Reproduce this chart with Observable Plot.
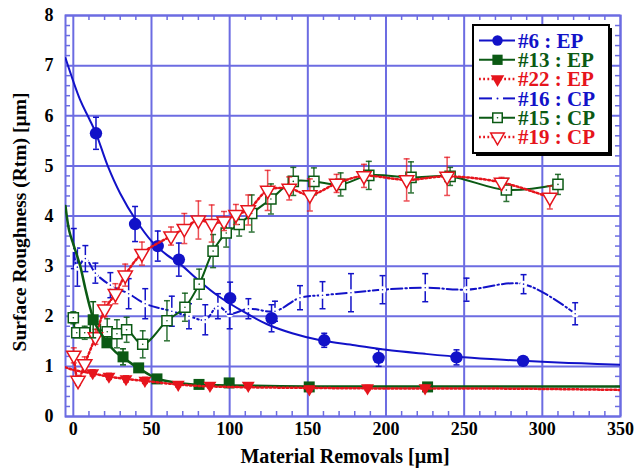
<!DOCTYPE html>
<html><head><meta charset="utf-8">
<script src="https://cdn.jsdelivr.net/npm/d3@7"></script>
<script src="https://cdn.jsdelivr.net/npm/@observablehq/plot@0.6"></script>
<style>body{margin:0;background:#fff} #chart{width:636px;height:473px}</style>
</head><body><div id="chart"></div>
<script>
// ---------- DATA ----------
const xTicks = [0, 50, 100, 150, 200, 250, 300, 350];
const yTicks = [0, 1, 2, 3, 4, 5, 6, 7, 8];
const xLabel = "Material Removals [µm]";
const yLabel = "Surface Roughness (Rtm) [µm]";
const seriesNames = ["#6 : EP", "#13 : EP", "#22 : EP", "#16 : CP", "#15 : CP", "#19 : CP"];

// #6 : EP  (filled circles + fitted curve)
const x6 = [14.5, 39.5, 54, 67.5, 100.3, 126.8, 160.5, 195.3, 245.1, 287.7];
const y6 = [5.65, 3.84, 3.40, 3.13, 2.36, 1.96, 1.52, 1.17, 1.18, 1.11];
const e6 = [0.32, 0.35, 0.30, 0.33, 0.32, 0.27, 0.14, 0.17, 0.15, 0.03];
const fit6x = [-5, 4.3, 10, 14.5, 22, 30, 40, 50, 60, 68, 80, 92, 110, 124, 140, 158, 180, 200, 225, 250, 275, 300, 325, 350];
const fit6y = [7.15, 6.32, 5.95, 5.65, 5.0, 4.45, 3.92, 3.5, 3.22, 3.05, 2.72, 2.42, 2.07, 1.84, 1.66, 1.52, 1.42, 1.33, 1.25, 1.18, 1.13, 1.09, 1.06, 1.03];

// #13 : EP  (filled squares + fitted curve)
const x13 = [12.7, 21.5, 31.8, 41.8, 53.5, 80.4, 99.7, 150.9, 226.6];
const y13 = [1.93, 1.47, 1.19, 0.97, 0.75, 0.64, 0.67, 0.59, 0.59];
const e13 = [0.36, 0.08, 0.16, 0.08, 0.05, 0.05, 0.05, 0.04, 0.04];
const fit13x = [-5, -2.6, 0.2, 4.5, 7.7, 10.9, 14, 18.4, 22, 26.9, 32, 37.5, 42, 48.2, 54, 63, 80, 100, 150, 200, 250, 300, 350];
const fit13y = [4.2, 3.7, 3.42, 2.99, 2.55, 2.15, 1.85, 1.62, 1.46, 1.29, 1.17, 1.05, 0.96, 0.84, 0.75, 0.69, 0.63, 0.62, 0.6, 0.6, 0.6, 0.6, 0.6];

// #22 : EP  (filled down-triangles + dotted fitted curve)
const x22 = [12.4, 22.8, 33.7, 45.8, 67.1, 87.4, 111.9, 151, 188.2, 225];
const y22 = [0.87, 0.80, 0.75, 0.72, 0.64, 0.62, 0.62, 0.55, 0.57, 0.57];
const e22 = [0.06, 0.06, 0.06, 0.06, 0.05, 0.05, 0.05, 0.05, 0.05, 0.05];
const fit22x = [-5, 0, 12, 22, 33, 46, 63, 80, 100, 150, 200, 250, 300, 350];
const fit22y = [0.98, 0.93, 0.86, 0.80, 0.75, 0.71, 0.65, 0.61, 0.59, 0.57, 0.56, 0.56, 0.55, 0.53];

// #16 : CP  (dash-dot line, hidden markers, error bars)
const x16 = [0.3, 2.6, 7.7, 14.1, 23.7, 35.4, 46, 63, 74, 84.4, 92.5, 100, 112, 129, 145, 159.4, 177.6, 197.8, 225.1, 251.5, 288, 321];
const y16 = [3.35, 2.98, 3.15, 2.86, 2.62, 2.45, 2.25, 2.10, 2.00, 1.93, 2.20, 2.05, 2.15, 2.10, 2.37, 2.42, 2.47, 2.53, 2.57, 2.53, 2.64, 2.05];
const e16 = [0.40, 0.38, 0.26, 0.20, 0.25, 0.30, 0.30, 0.30, 0.25, 0.30, 0.25, 0.30, 0.20, 0.20, 0.24, 0.27, 0.38, 0.28, 0.28, 0.23, 0.19, 0.22];

// #15 : CP  (open squares, solid line)
const x15 = [0, 2.2, 7.3, 14.1, 21.7, 27.9, 34.1, 44.4, 59.9, 71.4, 80.5, 89.4, 97.8, 106.1, 114.1, 126.4, 140.7, 153.9, 171, 189, 216, 241, 277, 310];
const y15 = [1.97, 1.67, 1.67, 1.74, 1.69, 1.65, 1.73, 1.44, 1.91, 2.18, 2.64, 3.30, 3.66, 3.83, 4.05, 4.34, 4.69, 4.69, 4.63, 4.81, 4.77, 4.79, 4.52, 4.63];
const e15 = [0.12, 0.10, 0.13, 0.15, 0.26, 0.28, 0.25, 0.27, 0.40, 0.28, 0.30, 0.33, 0.28, 0.23, 0.37, 0.30, 0.28, 0.27, 0.23, 0.28, 0.31, 0.18, 0.23, 0.20];

// #19 : CP  (open down-triangles, dotted line)
const x19 = [0.3, 3, 7.3, 14.1, 20.1, 26.9, 33.2, 43.9, 62.5, 71, 80, 88.5, 96.4, 104, 111.9, 124.3, 138.1, 151.3, 168.4, 185.9, 213.2, 239.1, 273.9, 304.8];
const y19 = [1.22, 0.72, 1.05, 1.59, 2.14, 2.45, 2.82, 3.25, 3.60, 3.75, 3.92, 3.85, 3.90, 4.03, 4.12, 4.51, 4.55, 4.42, 4.65, 4.80, 4.72, 4.79, 4.67, 4.37];
const e19 = [0.15, 0.10, 0.14, 0.15, 0.15, 0.20, 0.22, 0.23, 0.18, 0.30, 0.38, 0.37, 0.19, 0.20, 0.30, 0.40, 0.23, 0.32, 0.18, 0.23, 0.42, 0.38, 0.10, 0.23];

// ---------- STYLE ----------
const BLUE = "#1212c8", GREEN = "#0b5a14", RED = "#e6141c";
const GRID = "#6c6ce2";
const FONT = "'Liberation Serif', 'Times New Roman', serif";
const DOTS = "1.8,2.4";

const rows = (xs, ys, es) => xs.map((x, i) => ({x, y: ys[i], lo: ys[i] - es[i], hi: ys[i] + es[i]}));
const pts = (xs, ys) => xs.map((x, i) => ({x, y: ys[i]}));
const s6 = rows(x6, y6, e6), s13 = rows(x13, y13, e13), s22 = rows(x22, y22, e22);
const s16 = rows(x16, y16, e16), s15 = rows(x15, y15, e15), s19 = rows(x19, y19, e19);
const f6 = pts(fit6x, fit6y), f13 = pts(fit13x, fit13y), f22 = pts(fit22x, fit22y);

const xMinor = d3.range(0, 351, 10).filter(v => v % 50 !== 0);
const yMinor = d3.range(0, 8.01, 0.2).map(v => +v.toFixed(1)).filter(v => Math.abs(v - Math.round(v)) > 1e-6);

const capSymbol = {draw(ctx, size) { const w = Math.sqrt(size / Math.PI); ctx.moveTo(-w, 0); ctx.lineTo(w, 0); }};
function errorBars(data, color, opacity = 1) {
  return [
    Plot.ruleX(data, {x: "x", y1: "lo", y2: "hi", stroke: color, strokeWidth: 1.5, strokeOpacity: opacity}),
    Plot.dot(data, {x: "x", y: "hi", symbol: capSymbol, r: 3, stroke: color, strokeWidth: 1.5, strokeOpacity: opacity}),
    Plot.dot(data, {x: "x", y: "lo", symbol: capSymbol, r: 3, stroke: color, strokeWidth: 1.5, strokeOpacity: opacity})
  ];
}

const plot = Plot.plot({
  width: 636, height: 473,
  marginLeft: 65, marginRight: 16, marginTop: 15, marginBottom: 57,
  style: {fontFamily: FONT, fontWeight: "bold", background: "#fff", overflow: "visible"},
  x: {domain: [-5, 350]},
  y: {domain: [0, 8]},
  marks: [
    Plot.gridX(xTicks, {stroke: GRID, strokeOpacity: 1, strokeWidth: 2}),
    Plot.gridY(yTicks, {stroke: GRID, strokeOpacity: 1, strokeWidth: 2}),
    Plot.ruleX(xMinor, {x: d => d, y1: 0, y2: 0.1, stroke: GRID, strokeWidth: 1.5}),
    Plot.ruleX(xMinor, {x: d => d, y1: 7.9, y2: 8, stroke: GRID, strokeWidth: 1.5}),
    Plot.ruleY(yMinor, {y: d => d, x1: -5, x2: -1.8, stroke: GRID, strokeWidth: 1.5}),
    Plot.ruleY(yMinor, {y: d => d, x1: 346.8, x2: 350, stroke: GRID, strokeWidth: 1.5}),
    Plot.frame({stroke: GRID, strokeWidth: 2}),
    Plot.axisX({ticks: xTicks, tickSize: 0, tickPadding: 6, fontSize: 18, fontWeight: "bold", label: null, fill: "#000"}),
    Plot.axisY({ticks: yTicks, tickSize: 0, tickPadding: 12, fontSize: 18, fontWeight: "bold", label: null, fill: "#000"}),

    // #16 : CP
    Plot.line(s16, {x: "x", y: "y", stroke: BLUE, strokeWidth: 2, strokeDasharray: "11,3,1.5,3", curve: "catmull-rom"}),
    ...errorBars(s16, BLUE),
    Plot.dot(s16, {x: "x", y: "y", r: 3.5, fill: "#fff"}),
    Plot.dot(s16, {x: "x", y: "y", r: 0.8, fill: BLUE}),

    // #6 : EP
    Plot.line(f6, {x: "x", y: "y", stroke: BLUE, strokeWidth: 2, curve: "catmull-rom", clip: true}),
    ...errorBars(s6, BLUE),
    Plot.dot(s6, {x: "x", y: "y", r: 6.2, fill: BLUE}),

    // #15 : CP
    Plot.line(s15, {x: "x", y: "y", stroke: GREEN, strokeWidth: 2, curve: "catmull-rom"}),
    ...errorBars(s15, GREEN, 0.85),
    Plot.dot(s15, {x: "x", y: "y", symbol: "square", r: 5.7, fill: "#fff", stroke: GREEN, strokeWidth: 1.5}),
    Plot.dot(s15, {x: "x", y: "y", r: 0.8, fill: GREEN}),

    // #19 : CP
    Plot.line(s19, {x: "x", y: "y", stroke: RED, strokeWidth: 2.5, strokeDasharray: DOTS, curve: "catmull-rom"}),
    ...errorBars(s19, RED, 0.75),
    Plot.dot(s19, {x: "x", y: "y", symbol: "triangle", rotate: 180, r: 5.3, fill: "#fff", stroke: RED, strokeWidth: 1.5}),

    // #13 : EP
    Plot.line(f13, {x: "x", y: "y", stroke: GREEN, strokeWidth: 2.5, curve: "catmull-rom", clip: true}),
    ...errorBars(s13, GREEN),
    Plot.dot(s13, {x: "x", y: "y", symbol: "square", r: 6.2, fill: GREEN}),

    // #22 : EP
    Plot.line(f22, {x: "x", y: "y", stroke: RED, strokeWidth: 2.5, strokeDasharray: DOTS, curve: "catmull-rom", clip: true}),
    ...errorBars(s22, RED),
    Plot.dot(s22, {x: "x", y: "y", symbol: "triangle", rotate: 180, r: 4.8, fill: RED})
  ]
});
document.getElementById("chart").appendChild(plot);

const svg = d3.select(plot).attr("font-family", FONT);

// ---------- AXIS TITLES ----------
svg.append("text").attr("x", 345).attr("y", 456).attr("dy", "0.35em")
  .attr("text-anchor", "middle").attr("font-family", FONT).attr("font-weight", "bold")
  .attr("font-size", 20).attr("fill", "#000").text(xLabel);
svg.append("text").attr("transform", "translate(19,222) rotate(-90)").attr("dy", "0.35em")
  .attr("text-anchor", "middle").attr("font-family", FONT).attr("font-weight", "bold")
  .attr("font-size", 19.5).attr("fill", "#000").text(yLabel);

// ---------- LEGEND (inside plot, top-right) ----------
const legendItems = [
  {name: seriesNames[0], color: BLUE, dash: null, sym: d3.symbolCircle, size: 85, fill: true},
  {name: seriesNames[1], color: GREEN, dash: null, sym: d3.symbolSquare, size: 105, fill: true},
  {name: seriesNames[2], color: RED, dash: DOTS, sym: d3.symbolTriangle, size: 80, fill: true, rot: 180},
  {name: seriesNames[3], color: BLUE, dash: "dashdot", sym: null},
  {name: seriesNames[4], color: GREEN, dash: null, sym: d3.symbolSquare, size: 90, fill: false},
  {name: seriesNames[5], color: RED, dash: DOTS, sym: d3.symbolTriangle, size: 80, fill: false, rot: 180}
];
const lg = svg.append("g").attr("font-family", FONT).attr("font-weight", "bold");
const bx = 473, by = 25, bw = 136, bh = 128;
lg.append("rect").attr("x", bx + 3).attr("y", by + 3).attr("width", bw).attr("height", bh).attr("fill", "#000");
lg.append("rect").attr("x", bx).attr("y", by).attr("width", bw).attr("height", bh).attr("fill", "#fff").attr("stroke", "#000").attr("stroke-width", 2);
legendItems.forEach((it, i) => {
  const y = 40.5 + i * 19.3;
  const g = lg.append("g");
  if (it.sym === null) {
    g.append("line").attr("x1", 479).attr("x2", 492).attr("y1", y).attr("y2", y).attr("stroke", it.color).attr("stroke-width", 2);
    g.append("circle").attr("cx", 497.5).attr("cy", y).attr("r", 1).attr("fill", it.color);
    g.append("line").attr("x1", 503).attr("x2", 515).attr("y1", y).attr("y2", y).attr("stroke", it.color).attr("stroke-width", 2);
  } else {
    g.append("line").attr("x1", 479).attr("x2", 515).attr("y1", y).attr("y2", y)
      .attr("stroke", it.color).attr("stroke-width", it.dash ? 2.5 : 2).attr("stroke-dasharray", it.dash);
    g.append("path").attr("d", d3.symbol(it.sym, it.size)())
      .attr("transform", `translate(497.5,${y})${it.rot ? " rotate(180)" : ""}`)
      .attr("fill", it.fill ? it.color : "#fff").attr("stroke", it.color).attr("stroke-width", it.fill ? 0 : 1.5);
    if (!it.fill && it.sym === d3.symbolSquare) g.append("circle").attr("cx", 497.5).attr("cy", y).attr("r", 0.8).attr("fill", it.color);
  }
  g.append("text").attr("x", 518).attr("y", y).attr("dy", "0.35em").attr("text-anchor", "start")
    .attr("font-size", 21).attr("fill", it.color).text(it.name);
});
</script></body></html>
